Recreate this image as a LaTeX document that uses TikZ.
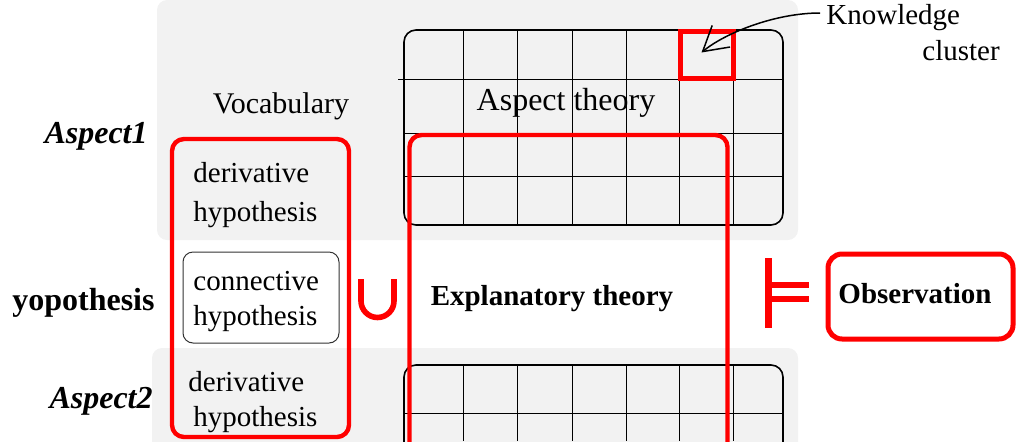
\documentclass[tikz,border=0pt]{standalone}
\usepackage{fontspec}
\setmainfont{Liberation Serif}
\definecolor{markred}{HTML}{FF0000}
\definecolor{panelgray}{HTML}{F2F2F2}
\usetikzlibrary{arrows.meta}

\begin{document}
\begin{tikzpicture}[x=0.5pt,y=-0.5pt,
    panel/.style={fill=panelgray,rounded corners=5pt},
    gridbox/.style={draw,line width=0.8pt,rounded corners=6pt},
    gridline/.style={line width=0.5pt},
    redbox/.style={draw=markred,line width=2.2pt,rounded corners=6pt},
    txt/.style={inner sep=0pt,font=\fontsize{14.5}{17.5}\selectfont,align=left},
    side/.style={inner sep=0pt,anchor=east,font=\fontsize{16}{19}\selectfont\bfseries},
    bigtxt/.style={inner sep=0pt,font=\fontsize{14.5}{17.5}\selectfont\bfseries}]
    \useasboundingbox (0,0) rectangle (1017,446);
    \clip (0,0) rectangle (1017,441);
    \fill[panel] (157,0) rectangle (798,240);
    \fill[panel] (152,348) rectangle (798,470);
    % aspect theory grids
    \draw[gridbox] (404,30) rectangle (783,225);
    \draw[gridbox] (404,365) rectangle (783,470);
    \foreach \x in {463,517,572,626,679,733} {
        \draw[gridline] (\x,30) -- (\x,225);
        \draw[gridline] (\x,365) -- (\x,441);
    }
    \draw[gridline] (398,79) -- (783,79);
    \foreach \y in {133,176,413} \draw[gridline] (404,\y) -- (783,\y);
    \node[draw=markred,line width=2.5pt,minimum width=26.5pt,minimum height=23.5pt,inner sep=0pt] (cluster) at (706.5,54.5) {};
    % hypothesis column and explanatory theory
    \draw[redbox] (172,139) rectangle (349,437);
    \draw[redbox] (409.5,135) rectangle (727.5,480);
    \draw[rounded corners=5pt,line width=0.5pt,black!80] (183,252) rectangle (339,343);
    \draw[markred,line width=2.5pt,rounded corners=7pt] (828,254) rectangle (1013,339);
    \node[txt,font=\fontsize{15}{18}\selectfont] (vocab) at (281,106) {Vocabulary};
    \node[txt,font=\fontsize{16}{19}\selectfont] (aspth) at (566,103) {Aspect theory};
    \node[txt,anchor=west] (deriv1) at (193,195) {derivative\\[1.8pt]hypothesis};
    \node[txt,anchor=west] (conn) at (193,301.5) {connective\\hypothesis};
    \node[txt,anchor=west] (deriv2) at (188,402) {derivative\\\hspace*{2.5pt}hypothesis};
    \node[side] (asp1) at (148,136) {\itshape Aspect1};
    \node[side] (yopo) at (155,303) {yopothesis};
    \node[side] (asp2) at (153,401) {\itshape Aspect2};
    \node[bigtxt] (expl) at (552,299) {Explanatory theory};
    \node[bigtxt] (obs) at (915,294) {Observation};
    % union and models symbols
    \draw[markred,line width=2.8pt] (361,279) -- (361,301) arc[start angle=180,end angle=0,radius=16.5] -- (394,279);
    \draw[markred,line width=3.5pt] (768,258) -- (768,328);
    \draw[markred,line width=3pt] (768,285) -- (809,285) (768,299) -- (809,299);
    \node[txt,anchor=west] (know) at (826,18) {Knowledge};
    \node[txt,anchor=west] (clus) at (922,51) {cluster};
    \draw[line width=0.75pt,-{Straight Barb[length=12pt,width=14pt]}] ([shift={(-6,-5)}]know.west) .. controls (775,13) and (725,33) .. ([shift={(-5,-2)}]cluster.center);
\end{tikzpicture}
\end{document}
